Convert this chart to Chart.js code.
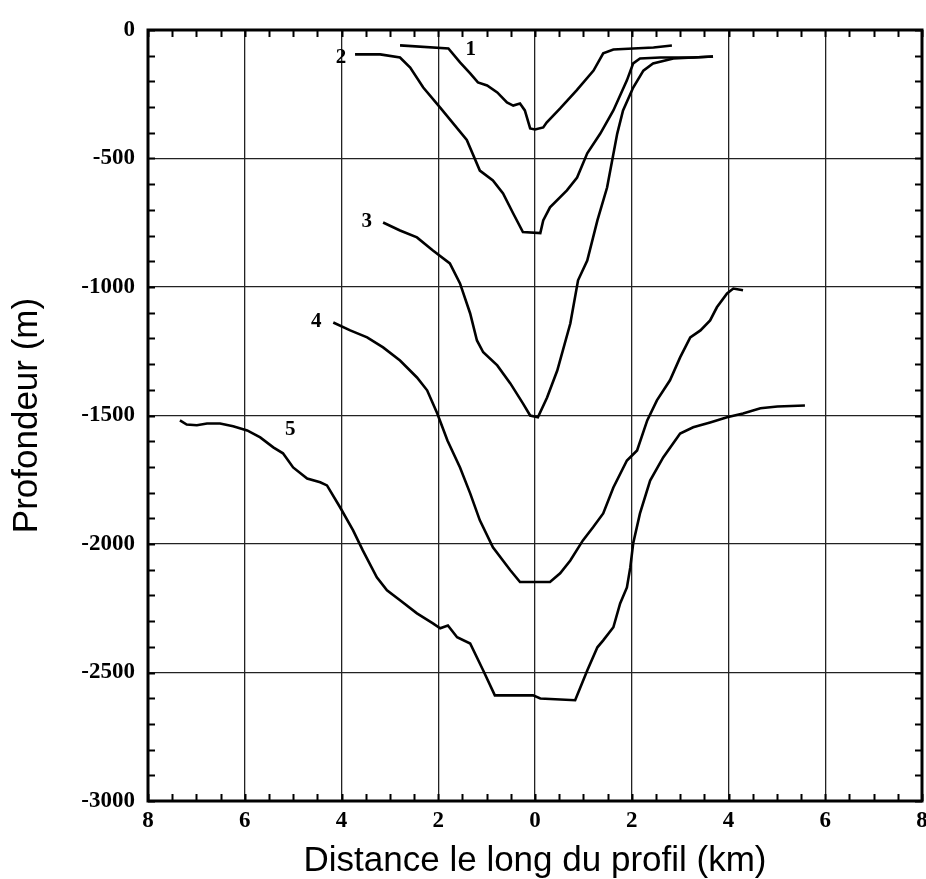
<!DOCTYPE html>
<html>
<head>
<meta charset="utf-8">
<script src="https://cdn.jsdelivr.net/npm/chart.js@4"></script>
<style>
  html, body { margin: 0; padding: 0; background: #fff; }
  #wrap { width: 926px; height: 879px; }
</style>
</head>
<body>
<div id="wrap"><canvas id="myChart" width="926" height="879"></canvas></div>
<script>

// profile 1
const p1X = [-2.79, -1.79, -1.55, -1.34, -1.18, -0.99, -0.78, -0.58, -0.45, -0.31, -0.21, -0.10, 0.0, 0.17, 0.24, 0.52, 0.86, 1.21, 1.41, 1.62, 2.03, 2.45, 2.83];
const p1Y = [-60, -72, -126, -169, -204, -216, -243, -282, -294, -286, -313, -383, -387, -379, -360, -305, -235, -158, -91, -76, -72, -68, -60];

// profile 2
const p2X = [-3.72, -3.20, -2.79, -2.58, -2.31, -1.96, -1.41, -1.14, -0.87, -0.66, -0.45, -0.25, 0.11, 0.17, 0.31, 0.66, 0.87, 1.08, 1.35, 1.62, 1.90, 2.03, 2.17, 2.59, 3.27, 3.68];
const p2Y = [-95, -95, -107, -146, -224, -302, -428, -547, -585, -636, -714, -786, -790, -741, -690, -624, -574, -480, -403, -313, -196, -130, -111, -107, -107, -103];

// profile 3
const p3X = [-3.14, -2.79, -2.44, -2.11, -1.76, -1.55, -1.34, -1.20, -1.07, -0.78, -0.51, -0.25, -0.10, 0.06, 0.25, 0.46, 0.73, 0.89, 1.08, 1.29, 1.49, 1.70, 1.82, 2.03, 2.24, 2.44, 2.86, 3.68];
const p3Y = [-749, -780, -807, -858, -908, -986, -1103, -1208, -1254, -1305, -1375, -1453, -1500, -1507, -1430, -1325, -1142, -974, -897, -741, -613, -403, -313, -224, -158, -130, -111, -103];

// profile 4
const p4X = [-4.17, -3.82, -3.47, -3.14, -2.79, -2.44, -2.23, -2.02, -1.81, -1.55, -1.34, -1.14, -0.87, -0.51, -0.31, 0.31, 0.52, 0.73, 0.99, 1.20, 1.41, 1.62, 1.90, 2.11, 2.32, 2.52, 2.79, 3.00, 3.21, 3.42, 3.62, 3.76, 3.97, 4.10, 4.30];
const p4Y = [-1138, -1169, -1196, -1235, -1286, -1352, -1402, -1492, -1597, -1702, -1803, -1908, -2013, -2102, -2148, -2148, -2114, -2064, -1986, -1935, -1881, -1780, -1675, -1636, -1519, -1441, -1363, -1274, -1196, -1169, -1130, -1079, -1025, -1006, -1013];

// profile 5
const p5X = [-7.34, -7.20, -6.99, -6.78, -6.51, -6.24, -5.95, -5.68, -5.41, -5.21, -5.00, -4.71, -4.44, -4.30, -4.03, -3.76, -3.56, -3.27, -3.06, -2.79, -2.44, -2.11, -1.96, -1.80, -1.61, -1.34, -1.07, -0.83, -0.04, 0.11, 0.83, 1.08, 1.29, 1.41, 1.62, 1.76, 1.90, 1.97, 2.03, 2.17, 2.38, 2.65, 3.00, 3.27, 3.62, 3.97, 4.30, 4.66, 5.01, 5.58];
const p5Y = [-1519, -1535, -1538, -1531, -1531, -1542, -1558, -1585, -1624, -1647, -1702, -1745, -1760, -1772, -1857, -1947, -2025, -2130, -2180, -2219, -2270, -2309, -2328, -2317, -2363, -2387, -2492, -2589, -2589, -2601, -2608, -2492, -2402, -2375, -2324, -2231, -2169, -2091, -1997, -1881, -1753, -1663, -1570, -1546, -1527, -1507, -1492, -1472, -1465, -1461];

// curve numbers written next to each profile
const curveLabels = ['1', '2', '3', '4', '5'];
const curveLabelX = [-1.33, -4.01, -3.48, -4.52, -5.06];
const curveLabelY = [-78, -109, -747, -1136, -1556];

const xMin = -8, xMax = 8, xStep = 2, xMinorStep = 0.5;
const yMin = -3000, yMax = 0, yStep = 500, yMinorStep = 100;

const toPoints = (xs, ys) => xs.map((x, i) => ({x: x, y: ys[i]}));

const profiles = [[p1X, p1Y], [p2X, p2Y], [p3X, p3Y], [p4X, p4Y], [p5X, p5Y]];

const data = {
    datasets: profiles.map((p, i) => ({
        label: curveLabels[i],
        data: toPoints(p[0], p[1]),
        showLine: true,
        borderColor: '#000',
        borderWidth: 2.6,
        pointRadius: 0,
        tension: 0,
        fill: false
    }))
};

// frame, inward minor ticks and curve numbers
const framePlugin = {
    id: 'frame',
    afterDatasetsDraw(chart) {
        const ctx = chart.ctx;
        const a = chart.chartArea;
        const xs = chart.scales.x;
        const ys = chart.scales.y;
        const tl = 7;
        ctx.save();
        ctx.strokeStyle = '#000';
        ctx.lineWidth = 2;
        ctx.beginPath();
        for (let v = xMin; v <= xMax + 1e-9; v += xMinorStep) {
            const px = Math.round(xs.getPixelForValue(v)) + 0.5;
            ctx.moveTo(px, a.top); ctx.lineTo(px, a.top + tl);
            ctx.moveTo(px, a.bottom); ctx.lineTo(px, a.bottom - tl);
        }
        for (let v = yMin; v <= yMax + 1e-9; v += yMinorStep) {
            const py = Math.round(ys.getPixelForValue(v)) + 0.5;
            ctx.moveTo(a.left, py); ctx.lineTo(a.left + tl, py);
            ctx.moveTo(a.right, py); ctx.lineTo(a.right - tl, py);
        }
        ctx.stroke();

        ctx.lineWidth = 3;
        ctx.strokeRect(a.left, a.top, a.right - a.left, a.bottom - a.top);

        ctx.fillStyle = '#000';
        ctx.font = 'bold 21px "Liberation Serif"';
        ctx.textAlign = 'center';
        ctx.textBaseline = 'middle';
        curveLabels.forEach((t, i) => {
            ctx.fillText(t, xs.getPixelForValue(curveLabelX[i]), ys.getPixelForValue(curveLabelY[i]));
        });
        ctx.restore();
    }
};

const tickFont = {family: '"Liberation Serif", "Times New Roman", serif', size: 23, weight: 'bold'};
const titleFont = {family: '"Liberation Sans", Arial, sans-serif', size: 35, lineHeight: 1};

const config = {
    type: 'scatter',
    data,
    plugins: [framePlugin],
    options: {
        responsive: false,
        animation: false,
        layout: {
            padding: {top: 30, right: 4, left: 0, bottom: 0}
        },
        scales: {
            x: {
                type: 'linear',
                min: xMin,
                max: xMax,
                afterFit: (scale) => {
                    scale.height = 78;
                    scale.paddingLeft = 0;
                    scale.paddingRight = 0;
                },
                grid: {
                    color: '#222',
                    lineWidth: 1.3,
                    drawTicks: false
                },
                border: {display: false},
                ticks: {
                    stepSize: xStep,
                    padding: 6,
                    color: '#000',
                    font: tickFont,
                    maxRotation: 0,
                    callback: (v) => String(Math.abs(v))
                },
                title: {
                    display: true,
                    text: 'Distance le long du profil (km)',
                    color: '#000',
                    font: titleFont,
                    padding: {top: 0, bottom: 0}
                }
            },
            y: {
                type: 'linear',
                min: yMin,
                max: yMax,
                afterFit: (scale) => {
                    scale.width = 148;
                    scale.paddingTop = 0;
                    scale.paddingBottom = 0;
                },
                grid: {
                    color: '#222',
                    lineWidth: 1.3,
                    drawTicks: false
                },
                border: {display: false},
                ticks: {
                    stepSize: yStep,
                    padding: 13,
                    color: '#000',
                    font: tickFont,
                    callback: (v) => String(v)
                },
                title: {
                    display: true,
                    text: 'Profondeur (m)',
                    color: '#000',
                    font: titleFont,
                    padding: {top: 10, bottom: 0}
                }
            }
        },
        plugins: {
            legend: {display: false},
            tooltip: {enabled: false}
        }
    }
};

const myChart = new Chart(
    document.getElementById('myChart').getContext('2d'),
    config
);
</script>
</body>
</html>
